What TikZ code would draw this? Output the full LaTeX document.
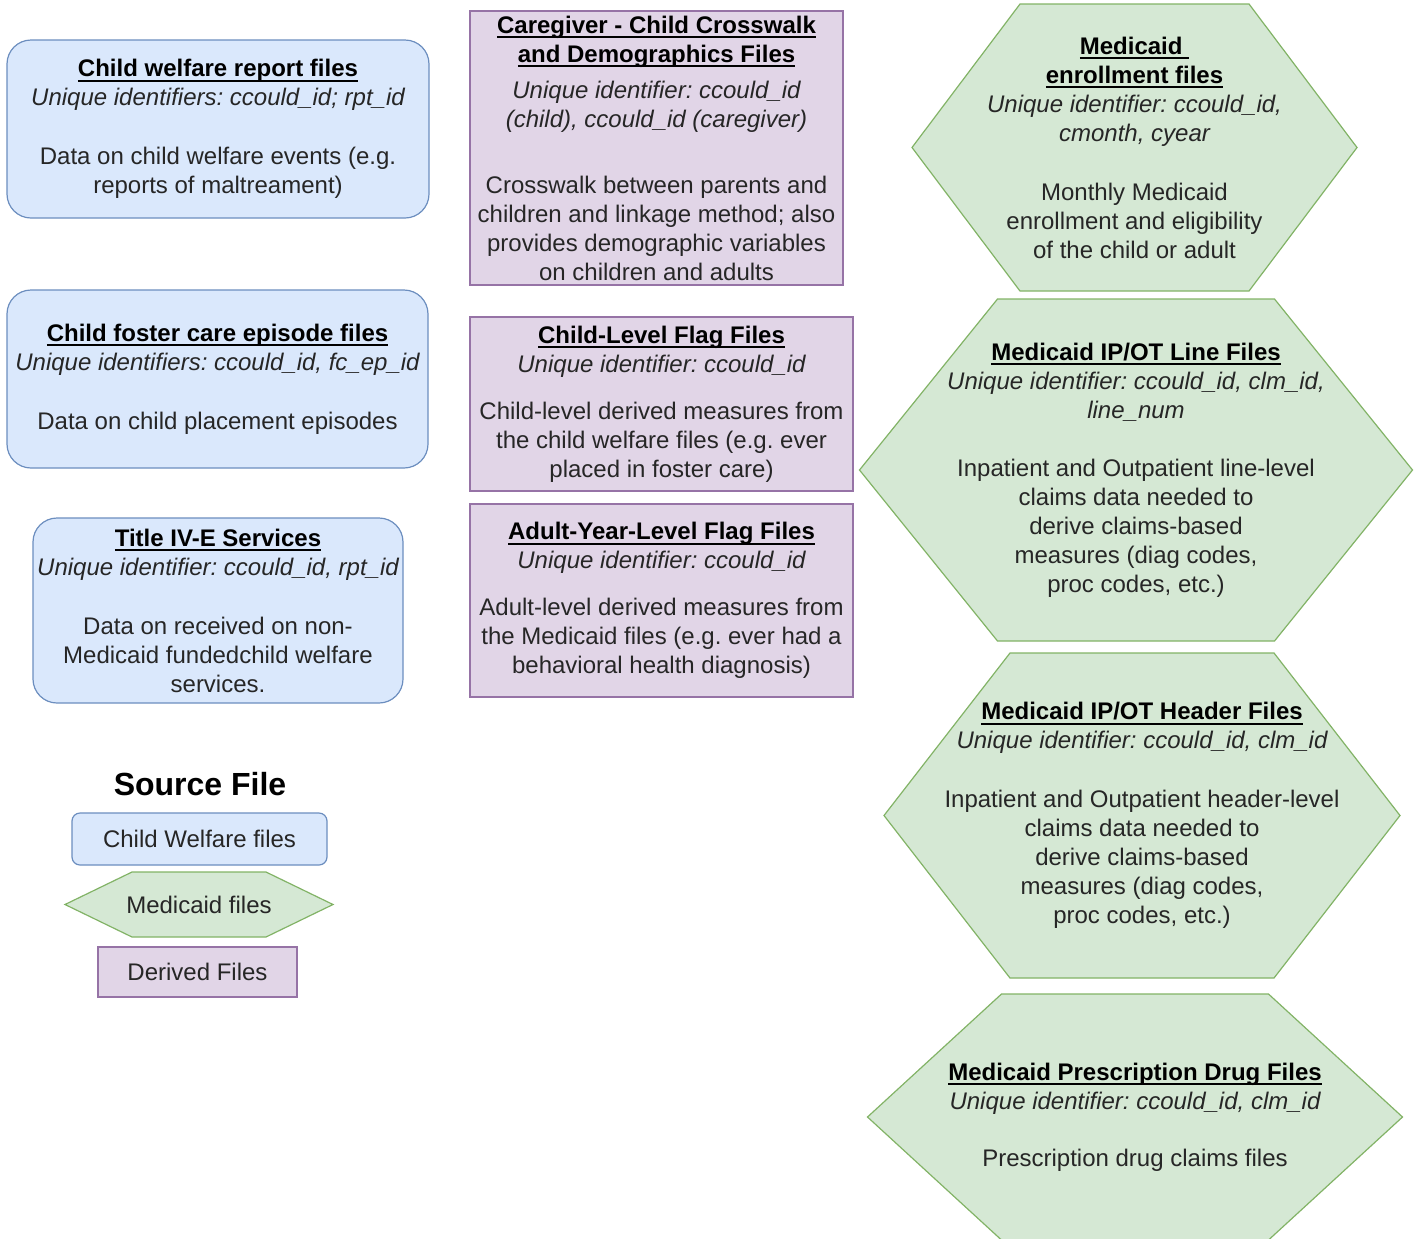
\documentclass[tikz,border=0pt]{standalone}
\usepackage{fontspec}
\setmainfont{Liberation Sans}
\usetikzlibrary{backgrounds}

\definecolor{cwfill}{HTML}{DAE8FC}
\definecolor{cwline}{HTML}{6C8EBF}
\definecolor{mdfill}{HTML}{D5E8D4}
\definecolor{mdline}{HTML}{82B366}
\definecolor{dvfill}{HTML}{E1D5E7}
\definecolor{dvline}{HTML}{9673A6}
\definecolor{txt}{HTML}{262626}

\frenchspacing
\newsavebox{\ttlbox}
\newcommand{\ftitle}[1]{{\bfseries\color{black}\sbox{\ttlbox}{#1}%
  \rlap{\rule[-2.4pt]{\wd\ttlbox}{0.8pt}}\usebox{\ttlbox}}}
\newcommand{\fid}[1]{{\itshape #1}}
% hexagon behind a named node, #2 = horizontal cut
\newcommand{\hexaround}[2]{%
  \begin{scope}[on background layer]
    \path[mdshape] (#1.west) -- ([xshift=#2]#1.north west) -- ([xshift=-#2]#1.north east)
      -- (#1.east) -- ([xshift=-#2]#1.south east) -- ([xshift=#2]#1.south west) -- cycle;
  \end{scope}}

\begin{document}
\begin{tikzpicture}[x=0.5pt,y=-0.5pt,
    every node/.style={font=\fontsize{12}{14.5}\selectfont\frenchspacing,text=txt,align=center,
                       inner sep=0pt,outer sep=0pt},
    cwfile/.style={draw=cwline,fill=cwfill,rounded corners=12pt,line width=0.6pt},
    dvfile/.style={draw=dvline,fill=dvfill,line width=0.6pt},
    mdshape/.style={draw=mdline,fill=mdfill,line width=0.6pt}]

  \useasboundingbox (0,0) rectangle (1420,1238);

  % child welfare files
  \node[cwfile,minimum width=211pt,minimum height=89pt] (report) at (218,129)
    {\ftitle{Child welfare report files}\\
     \fid{Unique identifiers: ccould\_id; rpt\_id}\\[15pt]
     Data on child welfare events (e.g.\\ reports of maltreament)};
  \node[cwfile,minimum width=210.5pt,minimum height=89pt] (foster) at (217.5,379)
    {\ftitle{Child foster care episode files}\\
     \fid{Unique identifiers: ccould\_id, fc\_ep\_id}\\[15pt]
     Data on child placement episodes};
  \node[cwfile,minimum width=185pt,minimum height=92.5pt] (titleive) at (218,610.5)
    {\ftitle{Title IV-E Services}\\
     \fid{Unique identifier: ccould\_id, rpt\_id}\\[15pt]
     Data on received on non-\\ Medicaid fundedchild welfare\\ services.};

  % derived files
  \node[dvfile,minimum width=186.5pt,minimum height=137pt] (crosswalk) at (656.5,148)
    {\ftitle{Caregiver - Child Crosswalk}\\
     \ftitle{and Demographics Files}\\[3.5pt]
     \fid{Unique identifier: ccould\_id}\\
     \fid{(child), ccould\_id (caregiver)}\\[18.5pt]
     Crosswalk between parents and\\ children and linkage method; also\\
     provides demographic variables\\ on children and adults};
  \node[dvfile,minimum width=191.5pt,minimum height=87pt] (childflag) at (661.5,404)
    {\ftitle{Child-Level Flag Files}\\
     \fid{Unique identifier: ccould\_id}\\[9pt]
     Child-level derived measures from\\ the child welfare files (e.g. ever\\
     placed in foster care)};
  \node[dvfile,minimum width=191.5pt,minimum height=96.5pt] (adultflag) at (661.5,600.5)
    {\ftitle{Adult-Year-Level Flag Files}\\
     \fid{Unique identifier: ccould\_id}\\[9pt]
     Adult-level derived measures from\\ the Medicaid files (e.g. ever had a\\
     behavioral health diagnosis)};

  % medicaid files
  \node[minimum width=222.5pt,minimum height=143.5pt] (enroll) at (1134.5,147.5)
    {\ftitle{Medicaid~}\\
     \ftitle{enrollment files}\\
     \fid{Unique identifier: ccould\_id,}\\
     \fid{cmonth, cyear}\\[15pt]
     Monthly Medicaid\\ enrollment and eligibility\\ of the child or adult};
  \hexaround{enroll}{54pt}
  \node[minimum width=276.5pt,minimum height=171pt] (ipotline) at (1136,470)
    {\ftitle{Medicaid IP/OT Line Files}\\
     \fid{Unique identifier: ccould\_id, clm\_id,}\\
     \fid{line\_num}\\[14.5pt]
     Inpatient and Outpatient line-level\\ claims data needed to\\
     derive claims-based\\ measures (diag codes,\\ proc codes, etc.)};
  \hexaround{ipotline}{69pt}
  \node[minimum width=258pt,minimum height=162.5pt] (ipothead) at (1142,815.5)
    {\ftitle{Medicaid IP/OT Header Files}\\
     \fid{Unique identifier: ccould\_id, clm\_id}\\[15pt]
     Inpatient and Outpatient header-level\\ claims data needed to\\
     derive claims-based\\ measures (diag codes,\\ proc codes, etc.)};
  \hexaround{ipothead}{63pt}
  \node[minimum width=267.5pt,minimum height=123pt] (drug) at (1135,1117)
    {\ftitle{Medicaid Prescription Drug Files}\\
     \fid{Unique identifier: ccould\_id, clm\_id}\\[14pt]
     Prescription drug claims files};
  \hexaround{drug}{67pt}

  % legend
  \node[font=\fontsize{16}{19}\selectfont\bfseries,text=black] (legend) at (200,784) {Source File};
  \node[cwfile,rounded corners=4pt,minimum width=127.5pt,minimum height=26pt] (legcw) at (199.5,839)
    {Child Welfare files};
  \node[minimum width=134pt,minimum height=32.5pt] (legmd) at (199,904.5) {Medicaid files};
  \hexaround{legmd}{33.5pt}
  \node[dvfile,minimum width=99.5pt,minimum height=25pt] (legdv) at (197.5,972) {Derived Files};
\end{tikzpicture}
\end{document}
